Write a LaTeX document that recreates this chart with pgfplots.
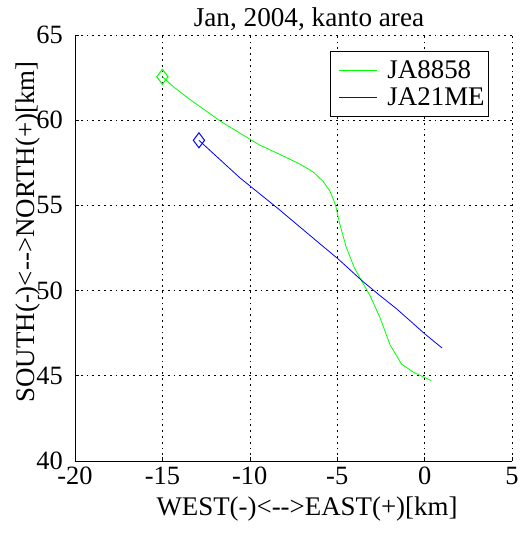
\documentclass[border=0pt]{standalone}
\usepackage{fontspec}
\setmainfont{Liberation Serif}
\usepackage{pgfplots}
\pgfplotsset{compat=1.18}
\definecolor{mgreen}{RGB}{0,255,0}
\definecolor{mblue}{RGB}{0,0,255}
\begin{document}
\begin{tikzpicture}[x=1bp,y=1bp]
\begin{axis}[
  at={(0,0)}, anchor=south west,
  scale only axis, width=437bp, height=426bp,
  xmin=-20, xmax=5, ymin=40, ymax=65,
  xtick={-20,-15,-10,-5,0,5}, ytick={40,45,50,55,60,65},
  xticklabels={-20,-15,-10,-5,0,5}, yticklabels={40,45,50,55,60,65},
  axis x line*=bottom, axis y line*=left,
  axis line style={line width=0.8bp, -},
  tick align=inside, major tick length=4bp, tick style={line width=0.6bp, black},
  grid=major, grid style={black, line width=0.6bp, dash pattern=on 1.8bp off 4bp},
  ticklabel style={font=\fontsize{26.5}{26}\selectfont},
  xticklabel style={anchor=north, inner sep=0pt, yshift=-6bp},
  yticklabel style={anchor=east, inner sep=0pt, xshift=-12bp},
  legend style={at={(axis description cs:0.9474,0.9624)}, anchor=north east,
    draw=black, line width=0.8bp, font=\fontsize{27}{25}\selectfont,
    inner xsep=2bp, inner ysep=6bp, row sep=0bp, nodes={inner xsep=2bp, inner ysep=3.5bp},
    /tikz/every odd column/.append style={column sep=8bp}},
  legend cell align=left,
  legend image code/.code={\path (0bp,0bp); \draw[#1] (6bp,0bp) -- (44bp,0bp);},
]
\addplot[mgreen, line width=0.8bp, mark=diamond, mark size=7.5bp, mark indices={1}, mark options={solid, line width=1bp}] coordinates {
(-15.0,62.55) (-14.37,61.96) (-13.42,61.21) (-12.47,60.52) (-11.62,59.90)
(-10.57,59.24) (-9.43,58.54) (-8.28,57.99) (-7.14,57.43) (-6.37,56.96)
(-5.80,56.40) (-5.42,55.84) (-5.20,55.30) (-5.08,54.95) (-4.87,53.97)
(-4.49,52.57) (-4.03,51.36) (-3.62,50.60) (-3.12,49.70) (-2.55,48.41)
(-1.98,46.82) (-1.32,45.69) (-0.66,45.22) (0.38,44.72)
};
\addlegendentry{JA8858}
\addplot[mblue, line width=0.8bp, mark=diamond, mark size=7.5bp, mark indices={1}, mark options={solid, line width=1bp}] coordinates {
(-12.91,58.82) (-10.57,56.62) (-8.38,54.81) (-5.90,52.67) (-4.96,51.87)
(-3.56,50.56) (-2.57,49.72) (-1.60,48.93) (0,47.47) (1.0,46.63)
};
\addlegendentry{JA21ME}
\end{axis}
\node[anchor=base, inner sep=0pt, font=\fontsize{27.3}{27}\selectfont] at (234,434) {Jan, 2004, kanto area};
\node[anchor=base, inner sep=0pt, font=\fontsize{27}{27}\selectfont] at (232,-54) {WEST(-)<-{}->EAST(+)[km]};
\node[rotate=90, anchor=base, inner sep=0pt, font=\fontsize{27}{27}\selectfont] at (-40,229) {SOUTH(-)<-{}->NORTH(+)[km]};
\pgfresetboundingbox
\path[use as bounding box] (-75,-86) rectangle (446,461);
\end{tikzpicture}
\end{document}
